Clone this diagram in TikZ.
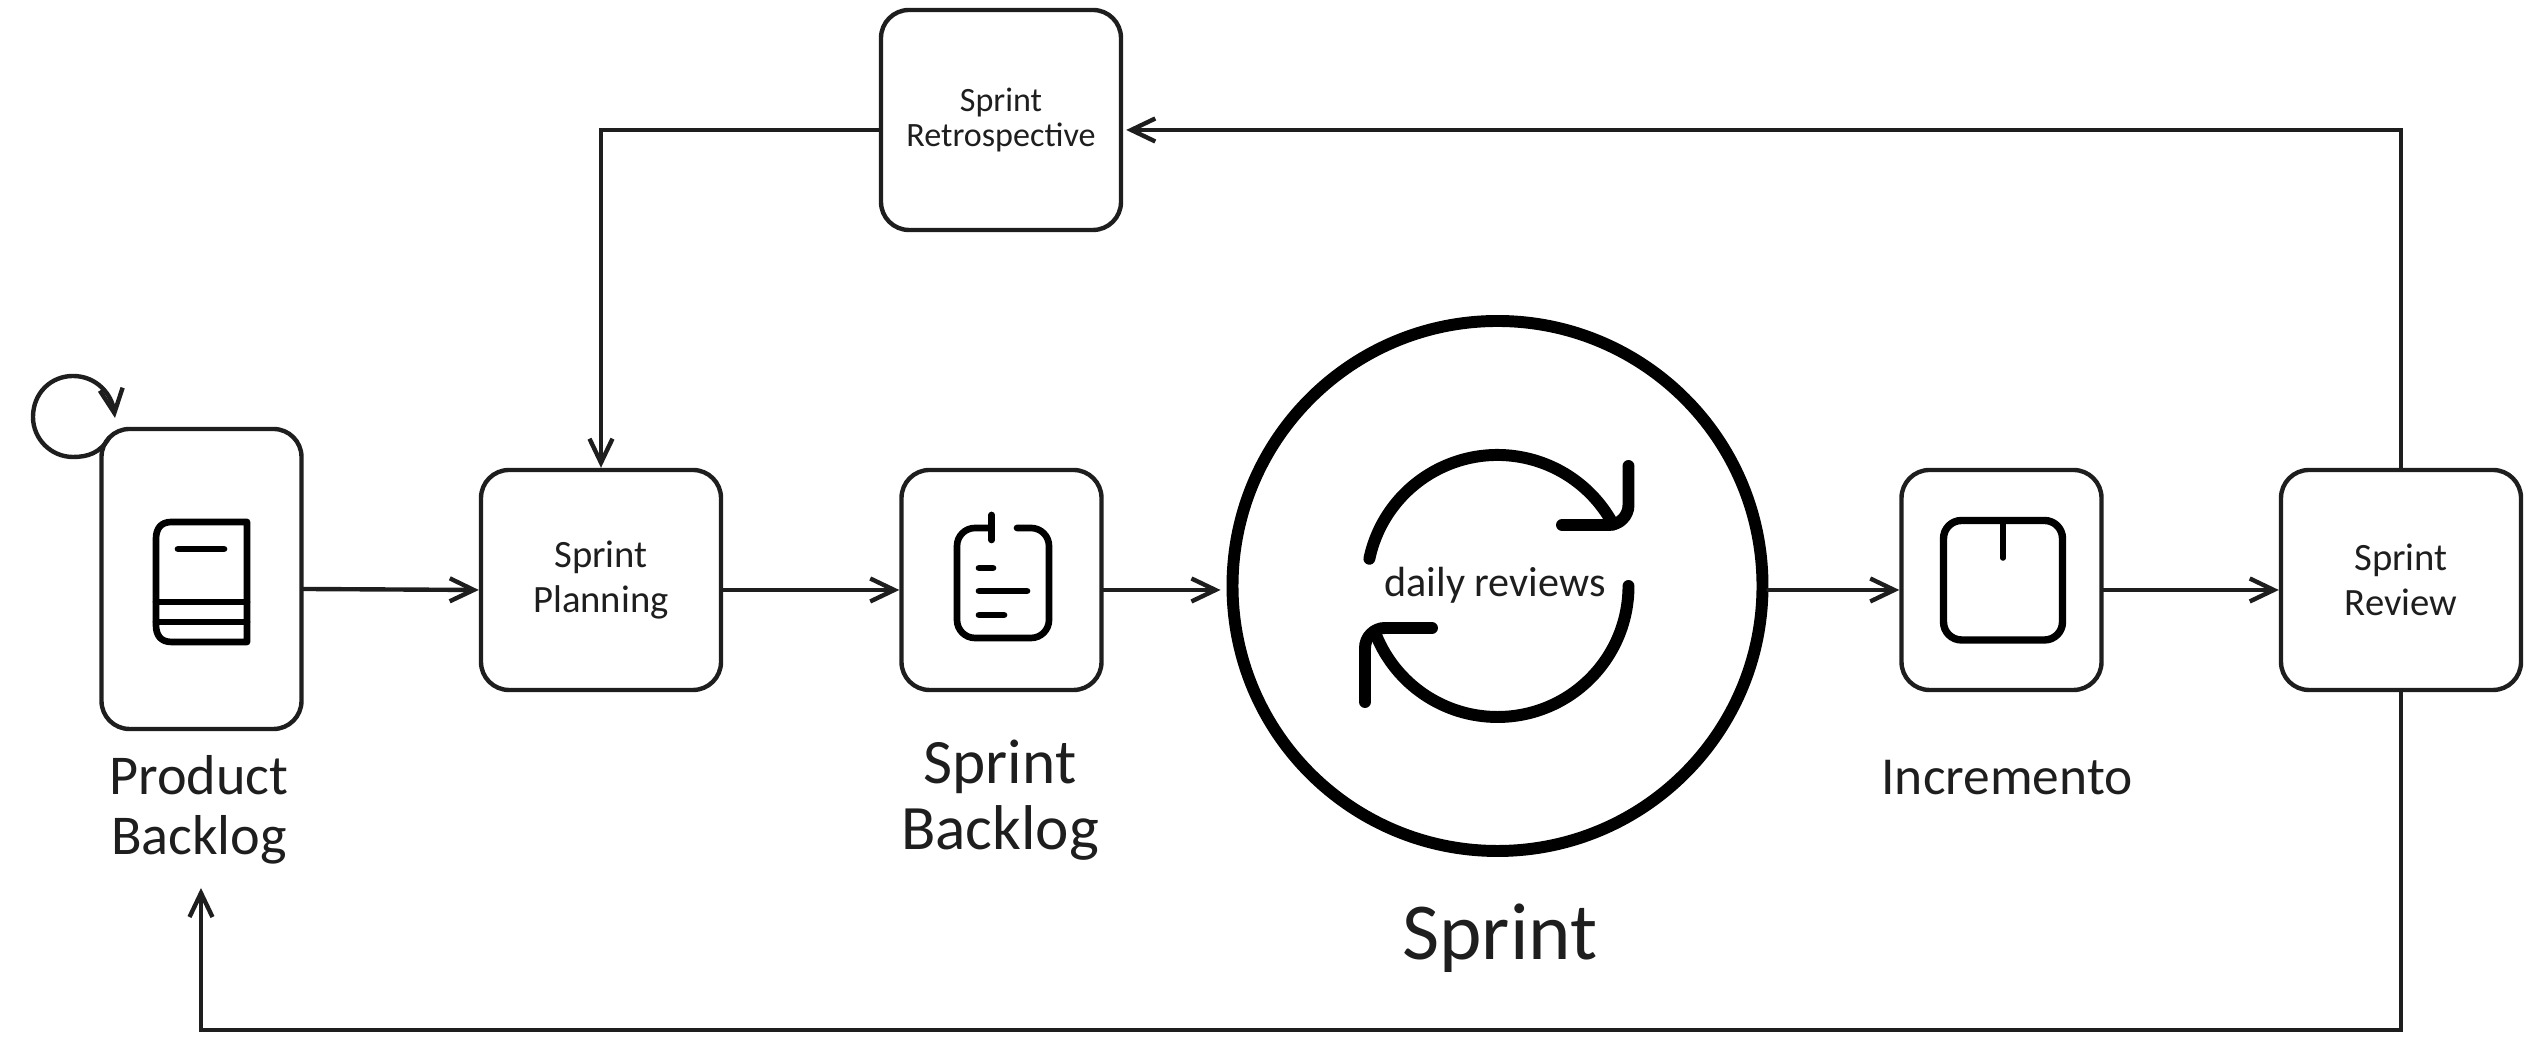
\documentclass[tikz,border=0pt]{standalone}
\usepackage{fontspec}
\setmainfont{Carlito}
\usepackage{xcolor}
\usetikzlibrary{arrows.meta}
\definecolor{InkGray}{RGB}{30,30,30}
\tikzset{
    flow/.style={draw=InkGray, line width=1.25pt, line cap=round, -{Straight Barb[length=2.4mm,width=2.3mm,line width=1.25pt]}},
    icon/.style={draw=black, line width=1.9pt, line cap=round, line join=round},
    bigicon/.style={draw=black, line width=3.4pt, line cap=round, line join=round}
}
\begin{document}
\begin{tikzpicture}[
        % --- STYLE CHUNG ---
        stepbox/.style={
            rectangle,
            draw=InkGray,
            line width=1.25pt,
            rounded corners=2.8mm,
            minimum width=2.4cm,
            minimum height=2.2cm,
            inner sep=0pt,
            align=center,
            text=InkGray,
            font=\fontsize{11}{12.8}\selectfont
        },
        artifactbox/.style={stepbox, minimum width=2.0cm},
        caption/.style={align=center, text=InkGray, inner sep=0pt}
    ]
    \useasboundingbox (0,0) rectangle (25.31,10.40);

    % --- HOP ---
    \node[artifactbox, minimum height=3cm] (product) at (2.015,4.61) {};
    \node[stepbox] (planning) at (6.01,4.60) {Sprint\\Planning};
    \node[artifactbox] (sprintlog) at (10.015,4.60) {};
    \node[circle, draw=black, line width=3.4pt, minimum size=5.30cm, inner sep=0pt] (sprint) at (14.975,4.54) {};
    \node[artifactbox] (increment) at (20.015,4.60) {};
    \node[stepbox] (review) at (24.01,4.60) {Sprint\\Review};
    \node[stepbox, font=\fontsize{9.7}{10.2}\selectfont] (retro) at (10.01,9.20) {Sprint\\Retrospective};

    % --- NHAN ---
    \node[caption, font=\fontsize{16}{17}\selectfont] (productcap) at (1.99,2.30) {Product\\Backlog};
    \node[caption, font=\fontsize{18}{18.8}\selectfont] (sprintcap) at (10.0,2.40) {Sprint\\Backlog};
    \node[caption, font=\fontsize{15.2}{17}\selectfont] (incrementcap) at (20.07,2.62) {Incremento};
    \node[caption, font=\fontsize{23}{25}\selectfont] (loopcap) at (15.0,1.02) {Sprint};
    \node[caption, font=\fontsize{12}{14}\selectfont] (daily) at (14.95,4.55) {daily reviews};

    % --- DUONG NOI ---
    \coordinate (backtip) at (2.01,1.52);
    \draw[flow] ([yshift=-1mm]product.east) -- ([yshift=-1mm]planning.west);
    \draw[flow] ([yshift=-1mm]planning.east) -- ([yshift=-1mm]sprintlog.west);
    \draw[flow] ([yshift=-1mm]sprintlog.east) -- ([yshift=-1mm,xshift=-0.6mm]sprintlog.east -| sprint.west);
    \draw[flow] ([yshift=-1mm]sprintlog.east -| sprint.east) -- ([yshift=-1mm]increment.west);
    \draw[flow] ([yshift=-1mm]increment.east) -- ([yshift=-1mm]review.west);
    \draw[flow] (review.north) |- ([xshift=0.3mm,yshift=-1mm]retro.east);
    \draw[flow] ([yshift=-1mm]retro.west) -| (planning.north);
    \draw[flow] (review.south) |- (2.01,0.10) -- (backtip);

    % --- VONG TU THAN ---
    \coordinate (loopstart) at (1.09,6.02);
    \draw[flow] (loopstart) .. controls (1.0,5.87) and (0.88,5.83) .. (0.73,5.83)
        .. controls (0.51,5.83) and (0.33,6.01) .. (0.33,6.23)
        .. controls (0.33,6.47) and (0.51,6.64) .. (0.73,6.64)
        .. controls (0.97,6.64) and (1.12,6.45) .. (1.15,6.22);

    % --- ICON SACH ---
    \begin{scope}[shift={(product.center)}]
        \draw[icon] (-0.30,0.57) -- (0.455,0.57) -- (0.455,-0.63) -- (-0.30,-0.63)
            .. controls (-0.41,-0.63) and (-0.455,-0.56) .. (-0.455,-0.46)
            -- (-0.455,0.40) .. controls (-0.455,0.50) and (-0.41,0.57) .. (-0.30,0.57) -- cycle;
        \draw[icon] (-0.235,0.30) -- (0.225,0.30);
        \draw[icon] (-0.455,-0.23) -- (0.455,-0.23);
        \draw[icon] (-0.455,-0.43) -- (0.455,-0.43);
    \end{scope}

    % --- ICON BANG ---
    \begin{scope}[shift={(sprintlog.center)}]
        \draw[icon, rounded corners=1.8mm] (-0.098,0.52) -- (-0.445,0.52) -- (-0.445,-0.58)
            -- (0.475,-0.58) -- (0.475,0.52) -- (0.155,0.52);
        \draw[icon] (-0.098,0.65) -- (-0.098,0.40);
        \draw[icon] (-0.225,0.12) -- (-0.085,0.12);
        \draw[icon] (-0.225,-0.11) -- (0.255,-0.11);
        \draw[icon] (-0.225,-0.35) -- (0.025,-0.35);
    \end{scope}

    % --- ICON HOP ---
    \begin{scope}[shift={(increment.center)}]
        \draw[icon, line width=2.1pt, rounded corners=1.8mm] (-0.58,0.595) rectangle (0.61,-0.60);
        \draw[icon, line width=1.6pt] (0.015,0.595) -- (0.015,0.22);
    \end{scope}

    % --- ICON VONG LAP ---
    \begin{scope}[shift={(sprint.center)}]
        \draw[bigicon] (168:1.31) arc[start angle=168, end angle=28, radius=1.31];
        \draw[bigicon, rounded corners=2mm] (1.31,1.20) -- (1.31,0.61) -- (0.645,0.61);
        \draw[bigicon] (0:1.31) arc[start angle=0, end angle=-158, radius=1.31];
        \draw[bigicon, rounded corners=2mm] (-0.655,-0.42) -- (-1.325,-0.42) -- (-1.325,-1.16);
    \end{scope}

\end{tikzpicture}
\end{document}
